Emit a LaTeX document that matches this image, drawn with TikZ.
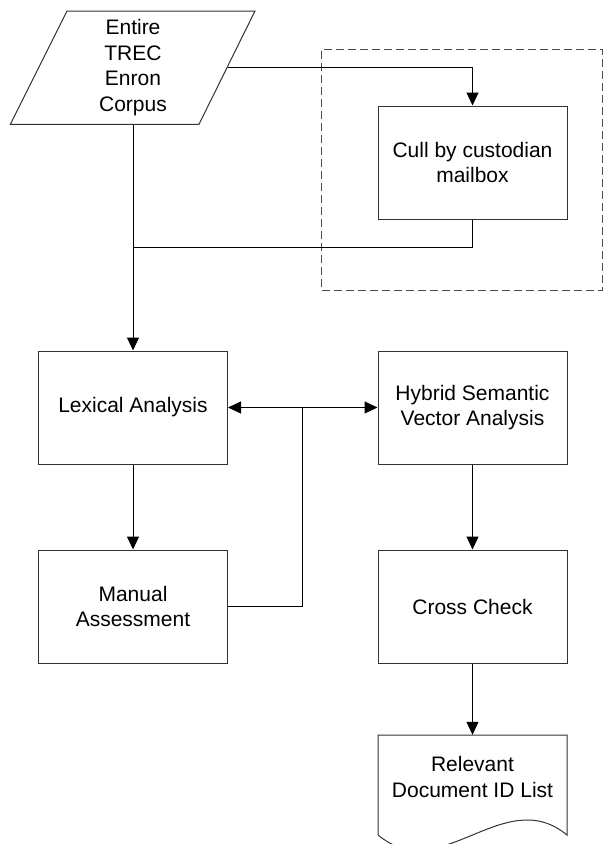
\documentclass[tikz,border=0pt]{standalone}
\usepackage{fontspec}
\setmainfont{Liberation Sans}
\usetikzlibrary{arrows.meta,calc}
\begin{document}
\begin{tikzpicture}[x=1pt,y=-1pt,
  txt/.style={font=\fontsize{21}{25.7}\selectfont, align=center, text=black},
  procbox/.style={txt, draw=black!80, line width=1pt, rectangle, minimum width=189pt, minimum height=113pt, inner sep=0pt},
  ghost/.style={txt, rectangle, minimum width=189pt, inner sep=0pt},
  conn/.style={draw=black, line width=1pt},
  arr/.style={conn, -{Triangle[length=13pt,width=12pt]}},
  arrboth/.style={conn, {Triangle[length=13pt,width=12pt]}-{Triangle[length=13pt,width=12pt]}},
  groupbox/.style={draw=black!70, line width=1pt, dash pattern=on 8pt off 4pt, rectangle, inner sep=0pt}
]
\useasboundingbox (0,0) rectangle (606,844);
\clip (0,0) rectangle (606,844);

% dashed group
\node[groupbox, minimum width=280.5pt, minimum height=241pt] (grp) at (461.8,169.5) {};

% corpus parallelogram
\draw[draw=black!80, line width=1pt] (67,11) -- (255,11) -- (199,124.3) -- (10.4,124.3) -- cycle;
\node[ghost, minimum height=113.3pt] (corpus) at (133,67.7) {Entire\\TREC\\Enron\\Corpus};

\node[procbox] (cull) at (472.5,162.5) {Cull by custodian\\mailbox};
\node[procbox] (lex) at (133,407.5) {Lexical Analysis};
\node[procbox] (hyb) at (472.5,407.5) {Hybrid Semantic\\Vector Analysis};
\node[procbox] (man) at (133,606.5) {Manual\\Assessment};
\node[procbox] (cross) at (472.5,606.5) {Cross Check};

% document shape
\draw[draw=black!80, line width=1pt] (378,835) -- (378,735) -- (567,735) -- (567,835)
  .. controls (504,783) and (441,887) .. (378,835);
\node[ghost, minimum height=84pt] (doc) at (472.5,777) {Relevant\\Document ID List};

\coordinate (j1) at (133,247);
\coordinate (j2) at (302,408);

\draw[arr] (corpus.east) -| (cull.north);
\draw[arr] (corpus.south) -- (lex.north);
\draw[conn] (cull.south) |- (j1);
\draw[arr] (lex.south) -- (man.north);
\draw[arrboth] (lex.east) -- (hyb.west);
\draw[conn] (man.east) -| (j2);
\draw[arr] (hyb.south) -- (cross.north);
\draw[arr] (cross.south) -- (doc.north);
\end{tikzpicture}
\end{document}
